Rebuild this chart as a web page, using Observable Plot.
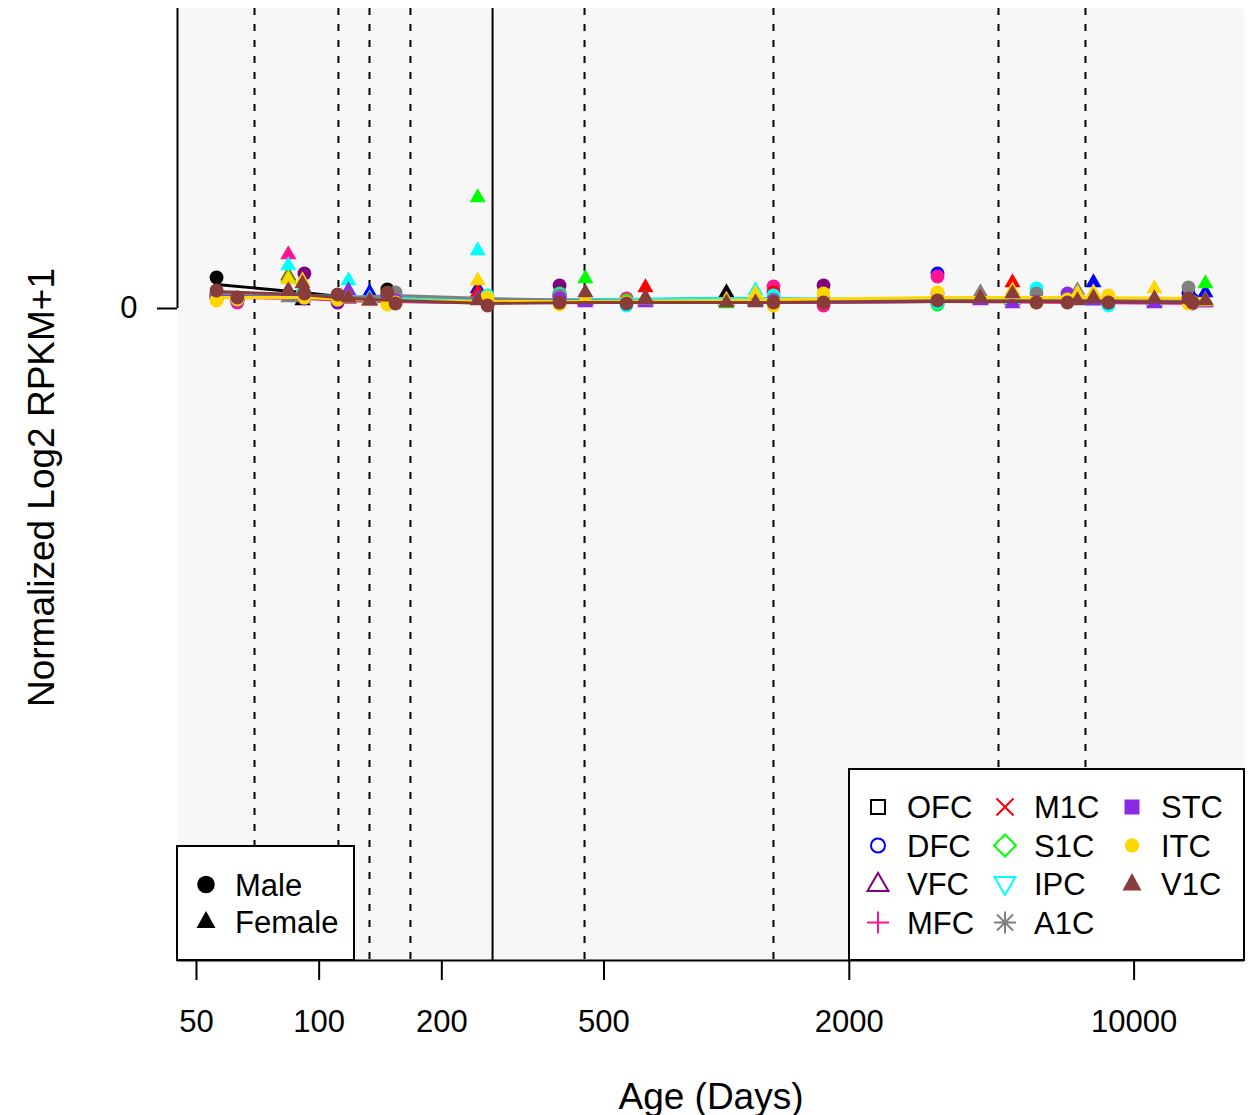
<!DOCTYPE html>
<html><head><meta charset="utf-8">
<script src="https://cdn.jsdelivr.net/npm/d3@7"></script>
<script src="https://cdn.jsdelivr.net/npm/@observablehq/plot@0.6"></script>
<style>body{margin:0;background:#fff;} svg{display:block}</style>
</head><body><div id="chart"></div>
<script>
const regions = ["OFC","DFC","VFC","MFC","M1C","S1C","IPC","A1C","STC","ITC","V1C"];
const regionColors = ["#000000","#0000FF","#800080","#FF1493","#FF0000","#00FF00","#00FFFF","#808080","#8A2BE2","#FFD700","#883D3A"];
const legendSymbols = ["square-open","circle-open","triangle-open","plus","times","diamond-open","triangle-down-open","asterisk","square","circle","triangle"];
const sexes = ["Male","Female"];

const sampleAges = [56,63,84,91,92,111,118,133,147,154,245,259,389,450,568,632,999,1177,1303,1729,3292,4196,5029,5759,6861,7261,7947,8650,11218,13596,13906,14962];
const sampleSex = ["Male","Male","Female","Female","Male","Male","Female","Female","Male","Male","Female","Male","Male","Female","Male","Female","Female","Female","Male","Male","Male","Female","Female","Male","Male","Female","Female","Male","Female","Male","Male","Female"];

const valOFC = [0.031,0.009,0.015,0.008,0.012,0.010,0.010,0.008,0.019,0.010,0.010,0.006,0.013,0.009,0.006,0.009,0.016,0.008,0.008,0.008,0.005,0.010,0.009,0.008,0.008,0.009,0.009,0.006,0.008,0.008,0.006,0.007];
const valDFC = [0.014,0.009,0.018,0.016,0.012,0.009,0.011,0.016,0.013,0.009,0.020,0.007,0.015,0.009,0.006,0.009,0.008,0.009,0.009,0.008,0.035,0.010,0.009,0.008,0.008,0.010,0.026,0.006,0.008,0.015,0.009,0.016];
const valVFC = [0.010,0.008,0.016,0.018,0.035,0.006,0.010,0.008,0.012,0.008,0.011,0.005,0.023,0.008,0.006,0.008,0.008,0.007,0.008,0.023,0.010,0.009,0.008,0.007,0.008,0.009,0.008,0.006,0.006,0.008,0.006,0.007];
const valMFC = [0.012,0.006,0.054,0.015,0.011,0.008,0.010,0.008,0.012,0.009,0.012,0.006,0.012,0.008,0.010,0.008,0.008,0.008,0.022,0.003,0.032,0.009,0.008,0.007,0.008,0.009,0.009,0.006,0.006,0.007,0.005,0.006];
const valM1C = [0.013,0.009,0.033,0.018,0.012,0.009,0.011,0.009,0.013,0.009,0.016,0.007,0.012,0.009,0.007,0.021,0.008,0.009,0.016,0.008,0.009,0.010,0.026,0.008,0.008,0.010,0.009,0.007,0.008,0.008,0.006,0.008];
const valS1C = [0.014,0.010,0.031,0.019,0.012,0.010,0.011,0.009,0.015,0.010,0.111,0.007,0.015,0.030,0.008,0.009,0.005,0.008,0.009,0.008,0.004,0.010,0.009,0.008,0.008,0.010,0.009,0.007,0.008,0.009,0.006,0.025];
const valIPC = [0.012,0.009,0.043,0.018,0.013,0.011,0.028,0.010,0.013,0.010,0.058,0.013,0.014,0.010,0.003,0.010,0.008,0.018,0.013,0.009,0.006,0.010,0.009,0.020,0.009,0.010,0.008,0.003,0.008,0.008,0.006,0.008];
const valA1C = [0.015,0.010,0.011,0.011,0.011,0.010,0.011,0.008,0.012,0.016,0.010,0.008,0.013,0.010,0.006,0.009,0.009,0.010,0.009,0.009,0.009,0.016,0.010,0.015,0.009,0.018,0.010,0.007,0.009,0.021,0.007,0.009];
const valSTC = [0.010,0.008,0.016,0.016,0.010,0.008,0.018,0.008,0.012,0.008,0.010,0.005,0.010,0.006,0.006,0.006,0.007,0.007,0.007,0.008,0.015,0.008,0.005,0.007,0.015,0.009,0.008,0.006,0.005,0.008,0.006,0.006];
const valITC = [0.008,0.009,0.029,0.028,0.011,0.009,0.011,0.008,0.004,0.006,0.028,0.011,0.004,0.010,0.006,0.009,0.008,0.015,0.003,0.015,0.016,0.011,0.018,0.006,0.009,0.015,0.016,0.013,0.020,0.005,0.006,0.007];
const valV1C = [0.018,0.011,0.018,0.025,0.015,0.014,0.011,0.008,0.016,0.005,0.008,0.003,0.006,0.016,0.005,0.011,0.006,0.006,0.006,0.006,0.008,0.011,0.015,0.006,0.006,0.008,0.011,0.006,0.010,0.010,0.006,0.008];

const fitAges = [56,91,118,154,259,450,999,3292,7261,14962];
const fitOFC = [0.024,0.016,0.011,0.010,0.008,0.008,0.010,0.008,0.008,0.009];
const fitDFC = [0.014,0.012,0.010,0.009,0.007,0.007,0.007,0.008,0.009,0.009];
const fitVFC = [0.012,0.011,0.008,0.007,0.006,0.006,0.006,0.007,0.007,0.006];
const fitMFC = [0.011,0.010,0.008,0.007,0.006,0.006,0.006,0.007,0.006,0.005];
const fitM1C = [0.014,0.013,0.010,0.008,0.007,0.007,0.007,0.008,0.008,0.007];
const fitS1C = [0.013,0.012,0.010,0.009,0.008,0.008,0.007,0.007,0.008,0.008];
const fitIPC = [0.014,0.013,0.012,0.011,0.009,0.009,0.010,0.009,0.008,0.007];
const fitA1C = [0.015,0.013,0.011,0.013,0.010,0.008,0.007,0.008,0.008,0.009];
const fitSTC = [0.012,0.011,0.009,0.008,0.006,0.006,0.006,0.007,0.007,0.006];
const fitITC = [0.011,0.011,0.009,0.008,0.007,0.007,0.008,0.011,0.011,0.010];
const fitV1C = [0.017,0.014,0.010,0.008,0.005,0.006,0.006,0.007,0.007,0.006];

const periodAges = [69.4,111.5,132.9,167.5,448,1303,4647,7597];
const birthAge = [266.4];
const xTicks = [50,100,200,500,2000,10000];
const yTicks = [0];
const xDomain = [44.91,18660];
const yDomain = [-0.652,0.300];

const allVals = [valOFC,valDFC,valVFC,valMFC,valM1C,valS1C,valIPC,valA1C,valSTC,valITC,valV1C];
const allFits = [fitOFC,fitDFC,fitVFC,fitMFC,fitM1C,fitS1C,fitIPC,fitA1C,fitSTC,fitITC,fitV1C];

const points = regions.flatMap((reg,i)=>sampleAges.map((a,j)=>({region:reg, age:a, sex:sampleSex[j], value:allVals[i][j]})));
const fits = regions.flatMap((reg,i)=>fitAges.map((a,j)=>({region:reg, age:a, value:allFits[i][j]})));

const font = "Liberation Sans, Arial, Helvetica, sans-serif";

const dataMarks = regions.flatMap(reg=>[
  Plot.dot(points.filter(d=>d.region===reg && d.sex==="Male"), {x:"age", y:"value", fill:"region", r:6.9, symbol:"circle"}),
  Plot.dot(points.filter(d=>d.region===reg && d.sex==="Female"), {x:"age", y:"value", fill:"region", r:6.0, symbol:"triangle"}),
  Plot.line(fits.filter(d=>d.region===reg), {x:"age", y:"value", stroke:"region", strokeWidth:2.8})
]);

const plot = Plot.plot({
  width:1249, height:1115,
  marginLeft:177, marginRight:5, marginTop:8, marginBottom:155,
  x:{type:"log", domain:xDomain},
  y:{domain:yDomain},
  color:{domain:regions, range:regionColors},
  style:{fontFamily:font, background:"white", color:"black"},
  marks:[
    Plot.frame({fill:"#f7f7f7", stroke:"none"}),
    Plot.ruleX(periodAges, {stroke:"black", strokeWidth:2, strokeDasharray:"7,9"}),
    Plot.ruleX(birthAge, {stroke:"black", strokeWidth:2}),
    ...dataMarks,
    Plot.ruleY([yDomain[0]], {stroke:"black", strokeWidth:2}),
    Plot.ruleX([xDomain[0]], {y1:yTicks[0], y2:yDomain[1], stroke:"black", strokeWidth:2}),
    Plot.axisX({ticks:xTicks, tickFormat:()=>"", tickSize:20, strokeWidth:2, label:null}),
    Plot.text(xTicks, {x:d=>d, text:d=>String(d), frameAnchor:"bottom", lineAnchor:"top", textAnchor:"middle", dy:49, fontSize:31}),
    Plot.axisY({ticks:yTicks, tickFormat:d=>String(d), tickSize:20, tickPadding:20, fontSize:31, strokeWidth:2, label:null}),
    Plot.text(["Age (Days)"], {text:d=>d, frameAnchor:"bottom", lineAnchor:"bottom", textAnchor:"middle", dy:148, fontSize:37}),
    Plot.text(["Normalized Log2 RPKM+1"], {text:d=>d, frameAnchor:"left", lineAnchor:"bottom", textAnchor:"middle", rotate:-90, dx:-124, dy:3, fontSize:37})
  ]
});
document.getElementById("chart").appendChild(plot);

// legends
const svg = d3.select(plot);
function legendPath(name){
  switch(name){
    case "square-open": return "M-7,-7H7V7H-7Z";
    case "square": return "M-7.5,-7.5H7.5V7.5H-7.5Z";
    case "circle-open": return d3.symbol(d3.symbolCircle, Math.PI*7*7)();
    case "circle": return d3.symbol(d3.symbolCircle, Math.PI*7.2*7.2)();
    case "triangle-open": return "M0,-11L10.5,7L-10.5,7Z";
    case "triangle": return "M0,-11L9.5,6.5L-9.5,6.5Z";
    case "triangle-down-open": return "M0,11L10.5,-7L-10.5,-7Z";
    case "plus": return "M-11,0H11M0,-11V11";
    case "times": return "M-8.5,-8.5L8.5,8.5M-8.5,8.5L8.5,-8.5";
    case "diamond-open": return "M0,-11L11,0L0,11L-11,0Z";
    case "asterisk": return "M-11,0H11M0,-11V11M-8,-8L8,8M-8,8L8,-8";
  }
}
const filledSyms = new Set(["square","circle","triangle"]);

const lg2 = svg.append("g").attr("text-anchor","start");
lg2.append("rect").attr("x",849).attr("y",769).attr("width",395).attr("height",191)
  .attr("fill","white").attr("stroke","black").attr("stroke-width",2);
regions.forEach((reg,i)=>{
  const col = Math.floor(i/4), row = i%4;
  const sx = 878 + col*127, cy = 807 + row*38.5;
  const sym = legendSymbols[i];
  const p = lg2.append("path").attr("d", legendPath(sym)).attr("transform",`translate(${sx},${cy})`);
  if (filledSyms.has(sym)) p.attr("fill", regionColors[i]).attr("stroke","none");
  else p.attr("fill","none").attr("stroke", regionColors[i]).attr("stroke-width",2);
  lg2.append("text").attr("x", sx+29).attr("y", cy).attr("dy","0.36em").attr("text-anchor","start")
    .attr("font-family",font).attr("font-size",31).attr("fill","black").text(reg);
});

const lg1 = svg.append("g").attr("text-anchor","start");
lg1.append("rect").attr("x",177).attr("y",846).attr("width",177).attr("height",114)
  .attr("fill","white").attr("stroke","black").attr("stroke-width",2);
sexes.forEach((s,i)=>{
  const cy = 884.5 + i*37.5;
  const d = i===0 ? d3.symbol(d3.symbolCircle, Math.PI*8.8*8.8)() : "M0,-11L9.5,6L-9.5,6Z";
  lg1.append("path").attr("d", d).attr("transform",`translate(206,${cy})`).attr("fill","black");
  lg1.append("text").attr("x",235).attr("y",cy).attr("dy","0.36em").attr("text-anchor","start")
    .attr("font-family",font).attr("font-size",31).attr("fill","black").text(s);
});
</script>
</body></html>
